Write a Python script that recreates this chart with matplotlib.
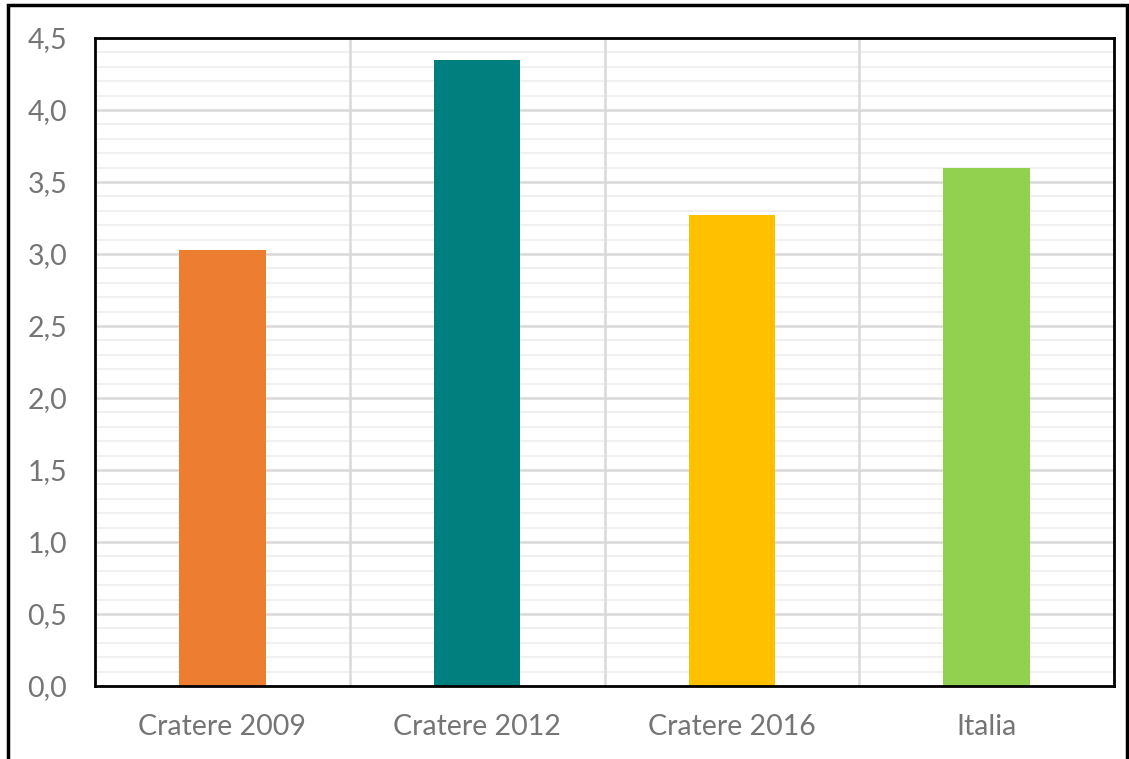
import numpy as np
import matplotlib as mpl
import matplotlib.pyplot as plt
from matplotlib.ticker import MultipleLocator, FuncFormatter

categories = ['Cratere 2009', 'Cratere 2012', 'Cratere 2016', 'Italia']
values = [3.03, 4.35, 3.27, 3.60]
colors = ['#ed7d31', '#007f7f', '#ffc000', '#92d050']

plt.rcParams['font.family'] = ['Lato', 'DejaVu Sans']

fig = plt.figure(figsize=(11.29, 7.59), dpi=100)
ax = fig.add_axes([95/1129, 1 - 686/759, (1114 - 95)/1129, (686 - 38)/759])
ax.set_axisbelow(True)

x = np.arange(len(categories))
ax.bar(x, values, width=0.34, color=colors, zorder=3)

ax.set_xlim(-0.5, len(categories) - 0.5)
ax.set_ylim(0, 4.5)

# grid: major every 0.5, minor every 0.1, vertical lines between categories
ax.yaxis.set_major_locator(MultipleLocator(0.5))
ax.yaxis.set_minor_locator(MultipleLocator(0.1))
ax.yaxis.set_major_formatter(FuncFormatter(lambda v, p: f'{v:.1f}'.replace('.', ',')))
ax.grid(which='minor', axis='y', color='#f0f0f0', linewidth=1.5)
ax.grid(which='major', axis='y', color='#d9d9d9', linewidth=1.8)
for b in x[:-1] + 0.5:
    ax.axvline(b, color='#d9d9d9', linewidth=1.8, zorder=2)

ax.set_xticks(x)
ax.set_xticklabels(categories)
ax.tick_params(axis='both', which='both', length=0, labelsize=20.5, labelcolor='#757575')
ax.tick_params(axis='x', pad=20)
ax.tick_params(axis='y', pad=20)

for s in ax.spines.values():
    s.set_color('black')
    s.set_linewidth(2)
    s.set_zorder(4)

# outer frame
fig.patches.append(mpl.patches.Rectangle((8/1129, -0.01), 1119/1129, 1 - 5/759 + 0.01,
                                         transform=fig.transFigure, fill=False,
                                         edgecolor='black', linewidth=2.5))

fig.savefig('out.png', dpi=100)
